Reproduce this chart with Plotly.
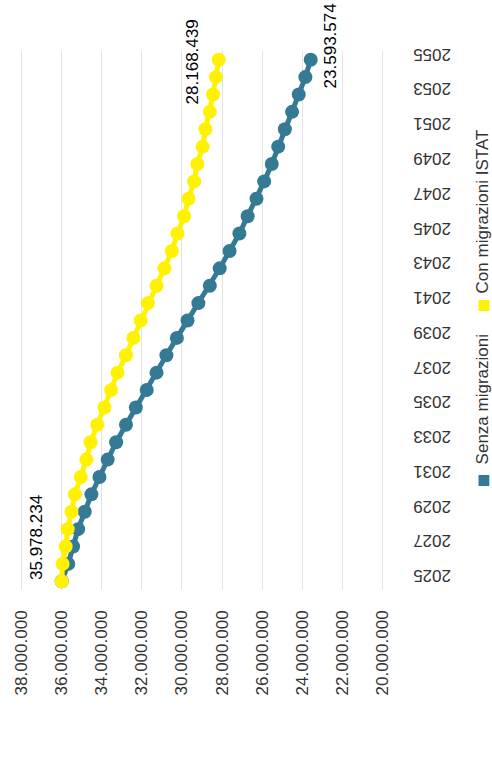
import plotly.graph_objects as go

# Popolazione residente prevista, 2025-2055
years = list(range(2025, 2056))

senza_migrazioni = [
    35978234, 35650000, 35410000, 35160000, 34830000, 34500000, 34100000,
    33690000, 33270000, 32780000, 32290000, 31750000, 31260000, 30770000,
    30250000, 29720000, 29180000, 28610000, 28120000, 27630000, 27140000,
    26730000, 26290000, 25910000, 25530000, 25210000, 24880000, 24520000,
    24190000, 23860000, 23593574,
]

con_migrazioni_istat = [
    35978234, 35930000, 35780000, 35680000, 35490000, 35320000, 35030000,
    34750000, 34540000, 34210000, 33850000, 33520000, 33200000, 32780000,
    32410000, 32050000, 31690000, 31260000, 30870000, 30500000, 30220000,
    29890000, 29670000, 29390000, 29230000, 28970000, 28830000, 28610000,
    28450000, 28310000, 28168439,
]

series_names = ["Senza migrazioni", "Con migrazioni ISTAT"]
series_colors = ["#357a94", "#fff200"]

value_ticks = list(range(20000000, 38000001, 2000000))
year_ticks = list(range(2025, 2056, 2))


def fmt_it(v):
    return f"{v:,}".replace(",", ".")


W, H = 492, 776
L, R, T, B = 12, 106, 51, 186
PW, PH = W - L - R, H - T - B
FONT = "Liberation Sans, Arial, sans-serif"


def px_x(px):
    return (px - L) / PW


def px_y(py):
    return (H - B - py) / PH


fig = go.Figure()
for name, vals, col in zip(series_names, [senza_migrazioni, con_migrazioni_istat], series_colors):
    fig.add_trace(go.Scatter(
        x=vals, y=years, mode="lines+markers", name=name,
        line=dict(color=col, width=5),
        marker=dict(color=col, size=14),
        showlegend=False, hoverinfo="skip",
    ))

# value labels at the first and last points
labels = [
    (senza_migrazioni[0], years[0], -25, 44),
    (con_migrazioni_istat[-1], years[-1], -26, -2),
    (senza_migrazioni[-1], years[-1], 20, 14),
]
annotations = []
for v, yr, dx, dy in labels:
    annotations.append(dict(
        x=v, y=yr, xref="x", yref="y", text=fmt_it(v), showarrow=False,
        textangle=-90, xanchor="center", yanchor="middle",
        xshift=dx, yshift=dy, font=dict(family=FONT, size=17, color="#000000"),
    ))

# legend drawn vertically along the right edge
legend_items = [(series_names[0], series_colors[0], 475, 399),
                (series_names[1], series_colors[1], 300, 211)]
shapes = []
for name, col, sq_top, txt_mid in legend_items:
    shapes.append(dict(type="rect", xref="paper", yref="paper",
                       x0=px_x(480), x1=px_x(491), y0=px_y(sq_top + 11), y1=px_y(sq_top),
                       fillcolor=col, line=dict(width=0)))
    annotations.append(dict(
        x=px_x(485), y=px_y(txt_mid), xref="paper", yref="paper", text=name,
        showarrow=False, textangle=-90, xanchor="center", yanchor="middle",
        font=dict(family=FONT, size=17, color="#333333"),
    ))

fig.update_layout(
    width=W, height=H,
    margin=dict(l=L, r=R, t=T, b=B, pad=0),
    paper_bgcolor="white", plot_bgcolor="white",
    font=dict(family=FONT, size=17, color="#333333"),
    annotations=annotations, shapes=shapes,
    xaxis=dict(
        range=[38150000, 19850000], tickvals=value_ticks,
        ticktext=[fmt_it(v) for v in value_ticks], tickangle=-90,
        showgrid=True, gridcolor="#e3e3e3", gridwidth=1,
        zeroline=False, showline=False, ticks="", ticklabelstandoff=16,
    ),
    yaxis=dict(
        range=[2024.5, 2055.5], side="right", tickvals=year_ticks,
        ticktext=[str(y) for y in year_ticks], tickangle=180,
        showgrid=False, zeroline=False, showline=False, ticks="",
        ticklabelstandoff=64,
    ),
)

fig.write_html("out.html")
